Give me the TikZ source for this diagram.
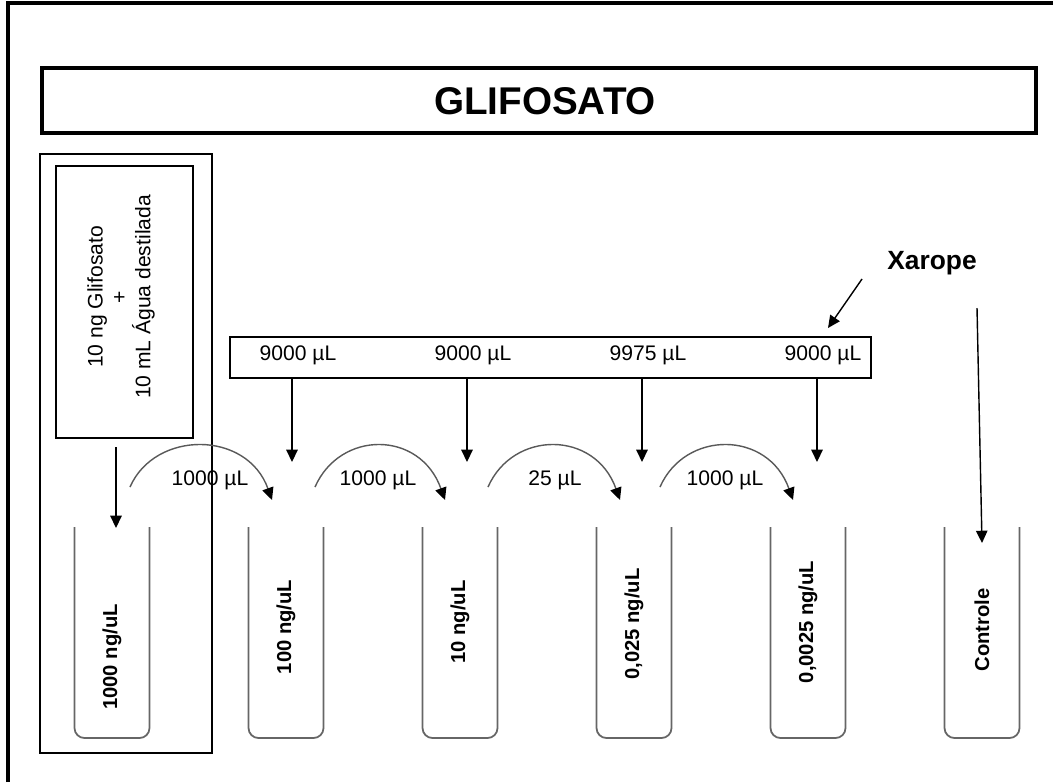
\documentclass[tikz,border=0pt]{standalone}
\usepackage{fontspec}
\setmainfont{Liberation Sans}
\usetikzlibrary{arrows.meta}
\tikzset{
  moldura/.style={line width=2pt},
  titulo/.style={draw, line width=2.2pt},
  caixa/.style={draw, line width=.8pt},
  tubo/.style={draw=black!60, line width=1pt, rounded corners=5.7pt},
  seta/.style={line width=.8pt, -{Triangle[width=6.5pt,length=7pt]}},
  arco/.style={draw=black!65, line width=.8pt, -{Triangle[width=6.5pt,length=7pt,color=black]}},
  rotulo/.style={font=\fontsize{12}{13.6}\selectfont},
  conc/.style={font=\bfseries\fontsize{11.5}{14}\selectfont, rotate=90},
}

\begin{document}
\begin{tikzpicture}[x=0.02cm,y=-0.02cm]
  \useasboundingbox (0,0) rectangle (1053,782);
  \draw[moldura] (8,782) -- (8,3) -- (1053,3);

  % titulo
  \draw[titulo] (42,68) rectangle (1036,133);
  \node[font=\bfseries\fontsize{22}{26}\selectfont] (glifosato) at (545,101) {GLIFOSATO};

  % solucao inicial
  \draw[caixa] (40,154) rectangle (212,753);
  \draw[caixa] (56,166) rectangle (193,438);
  \node[rotulo, rotate=90, align=center] (solucao) at (121,297)
    {10 ng Glifosato\\+\\10 mL Água destilada};

  % xarope
  \draw[caixa] (230,337) rectangle (871,378);
  \node[font=\bfseries\fontsize{15}{17}\selectfont] (xarope) at (932,263) {Xarope};
  \foreach \i/\x/\v in {1/292/9000, 2/467/9000, 3/642/9975, 4/817/9000}{
    \node[rotulo] (vol\i) at (\x+6,355) {\v\ µL};
    \coordinate (topo\i) at (\x,378);
    \coordinate (fim\i) at (\x,462);
    \draw[seta] (topo\i) -- (fim\i);
  }
  \coordinate (xa) at (862,279);
  \coordinate (xb) at (828,328);
  \draw[seta] (xa) -- (xb);
  \coordinate (ca) at (977,308);
  \coordinate (cb) at (982,543);
  \draw[seta] (ca) -- (cb);

  % tubos
  \foreach \i/\c/\y/\txt in {1/112/657/{1000 ng/uL}, 2/286/627/{100 ng/uL},
      3/460/622/{10 ng/uL}, 4/634/624/{0,025 ng/uL}, 5/808/622/{0,0025 ng/uL},
      6/982/630/{Controle}}{
    \draw[tubo] (\c-37.5,527) -- (\c-37.5,738) -- (\c+37.5,738) -- (\c+37.5,527);
    \node[conc] (tubo\i) at (\c,\y) {\txt};
  }
  \coordinate (sa) at (116,447);
  \coordinate (sb) at (116,528);
  \draw[seta] (sa) -- (sb);

  % diluicoes
  \foreach \i/\s/\e in {1/130/272, 2/315/445, 3/488/620, 4/660/793}{
    \coordinate (ini\i) at (\s,487);
    \coordinate (alvo\i) at (\e,500);
    \draw[arco] (ini\i) .. controls (\s+25,430) and (\e-25,430) .. (alvo\i);
  }
  \foreach \i/\x/\v in {1/210/1000, 2/378/1000, 3/555/25, 4/725/1000}
    \node[rotulo] (dil\i) at (\x,480) {\v\ µL};
\end{tikzpicture}
\end{document}
